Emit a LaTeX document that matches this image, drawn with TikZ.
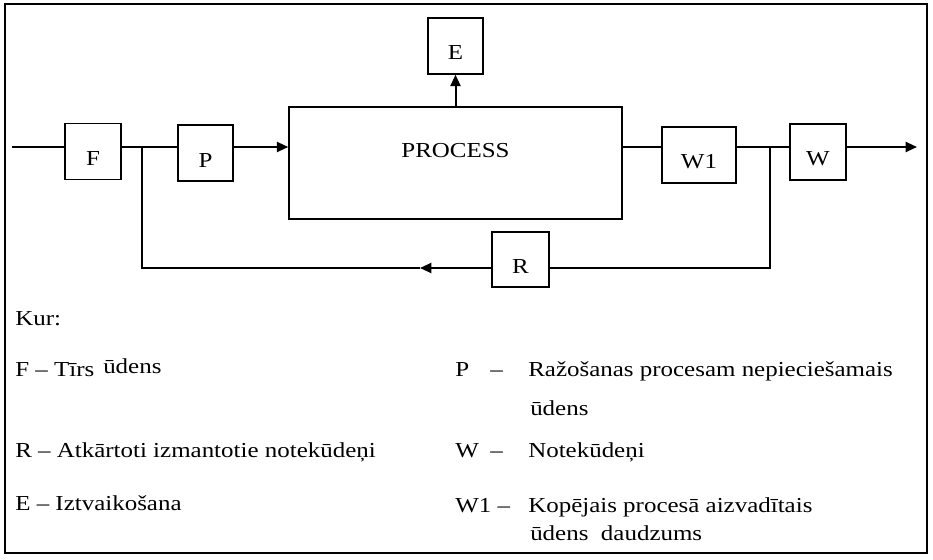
\documentclass[tikz,border=0pt]{standalone}
\usepackage{fontspec}
\setmainfont{Liberation Serif}[FakeStretch=1.17]
\usetikzlibrary{arrows.meta}

\begin{document}
\begin{tikzpicture}[x=0.75pt,y=-0.75pt,
  box/.style={draw,line width=1.1pt,inner sep=0pt,minimum width=42pt,minimum height=42pt,
    text height=21pt,text depth=0pt,font=\fontsize{16}{19}\selectfont},
  pipe/.style={line width=1.5pt},
  flow/.style={-{Triangle[length=8.5pt,width=7.5pt]},line width=1.5pt},
  legend/.style={anchor=base west,inner sep=0pt,font=\fontsize{16}{19}\selectfont}]
  \useasboundingbox (0,0) rectangle (933,560);
  \draw[line width=1.1pt] (5,4) rectangle (927,553);

  \node[box] (f) at (93,151.5) {F};
  \node[box,minimum width=41.25pt] (p) at (205.5,153) {P};
  \node[box,minimum width=249.75pt,minimum height=84pt,text height=10pt,text depth=18pt] (proc) at (455.5,163) {PROCESS};
  \node[box,minimum width=41.25pt] (e) at (455.5,46) {E};
  \node[box,minimum width=55.5pt] (wone) at (699,155) {W1};
  \node[box] (w) at (818,152) {W};
  \node[box,minimum width=42.75pt,minimum height=41.25pt] (r) at (520.5,259.5) {R};

  \coordinate (in) at (12,147);
  \coordinate (out) at (917,147);
  \coordinate (jl) at (142,147);
  \coordinate (jr) at (770,147);
  \coordinate (back) at (420,268);

  \draw[pipe] (in) -- (f.west |- in);
  \draw[pipe] (f.east |- in) -- (p.west |- in);
  \draw[flow] (p.east |- in) -- (proc.west |- in);
  \draw[pipe] (proc.east |- in) -- (wone.west |- in);
  \draw[pipe] (wone.east |- in) -- (w.west |- in);
  \draw[flow] (w.east |- in) -- (out);
  \draw[flow] (proc.north -| e) -- (e.south);
  \draw[pipe] (jr) |- (r.east |- back);
  \draw[flow] (r.west |- back) -- (back);
  \draw[pipe] (back) -| (jl);

  \node[legend] (kur) at (15,325) {Kur:};
  \node[legend] (lf) at (15,376) {F – Tīrs};
  \node[legend] (lfb) at (103,373) {ūdens};
  \node[legend] (lr) at (15,457) {R – Atkārtoti izmantotie notekūdeņi};
  \node[legend] (le) at (15,510) {E – Iztvaikošana};

  \node[legend] (lp) at (455,376) {P};
  \node[legend] (lpd) at (490,376) {–};
  \node[legend] (lpt) at (528,376) {Ražošanas procesam nepieciešamais};
  \node[legend] (lpt2) at (530,415) {ūdens};
  \node[legend] (lw) at (455,457) {W};
  \node[legend] (lwd) at (490,457) {–};
  \node[legend] (lwt) at (528,457) {Notekūdeņi};
  \node[legend] (lwone) at (455,512) {W1 –};
  \node[legend] (lwonet) at (528,512) {Kopējais procesā aizvadītais};
  \node[legend] (lwonet2) at (530,540) {ūdens\ \ daudzums};
\end{tikzpicture}
\end{document}
